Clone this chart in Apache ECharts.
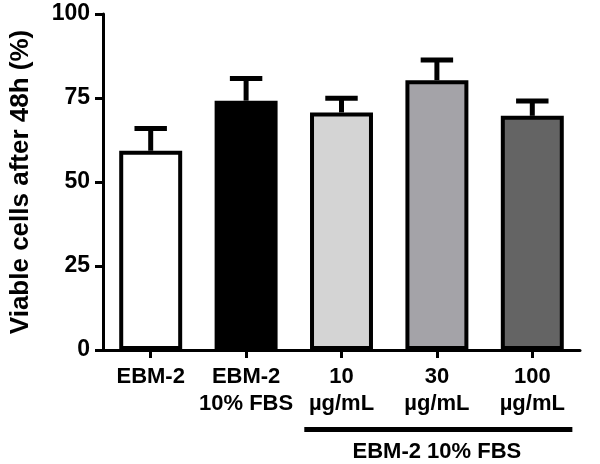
<!DOCTYPE html>
<html>
<head>
<meta charset="utf-8">
<script src="https://cdn.jsdelivr.net/npm/echarts@6/dist/echarts.min.js"></script>
<style>html,body{margin:0;padding:0;background:#fff}#c{width:600px;height:464px}</style>
</head>
<body>
<div id="c"></div>
<script>
var categories = ['EBM-2', 'EBM-2\n10% FBS', '10\n\u00b5g/mL', '30\n\u00b5g/mL', '100\n\u00b5g/mL'];
var means = [59.3, 74.2, 70.7, 80.3, 69.7];
var errors = [6.6, 6.6, 4.2, 6.0, 4.4];
var barColors = ['#ffffff', '#000000', '#d4d4d4', '#a4a3a8', '#646464'];
var yTicks = [0, 25, 50, 75, 100];
var groupLabel = 'EBM-2 10% FBS';
var groupFrom = 2, groupTo = 4;

var FONT = '"Liberation Sans", Arial, sans-serif';
var chart = echarts.init(document.getElementById('c'), null, {renderer: 'canvas'});

var option = {
  animation: false,
  backgroundColor: '#fff',
  grid: {left: 92, right: 20, top: 14, bottom: 114, containLabel: false},
  xAxis: {
    type: 'category',
    data: categories,
    axisLine: {lineStyle: {color: '#000', width: 3}},
    axisTick: {show: true, alignWithLabel: true, length: 8, lineStyle: {color: '#000', width: 3}},
    axisLabel: {color: '#000', fontFamily: FONT, fontWeight: 'bold', fontSize: 22, lineHeight: 27, margin: 13, interval: 0}
  },
  yAxis: {
    type: 'value',
    min: 0, max: 100, interval: 25,
    name: 'Viable cells after 48h (%)',
    nameLocation: 'middle',
    nameGap: 69,
    nameTextStyle: {color: '#000', fontFamily: FONT, fontWeight: 'bold', fontSize: 26},
    axisLine: {show: true, lineStyle: {color: '#000', width: 3}},
    axisTick: {show: true, length: 8, lineStyle: {color: '#000', width: 3}},
    axisLabel: {color: '#000', fontFamily: FONT, fontWeight: 'bold', fontSize: 23, margin: 13,
      formatter: function (v) { return yTicks.indexOf(v) >= 0 ? String(v) : ''; }},
    splitLine: {show: false}
  },
  series: [
    {
      type: 'bar',
      barWidth: '66%',
      data: means.map(function (m, i) {
        return {value: m, itemStyle: {color: barColors[i], borderColor: '#000', borderWidth: 4}};
      }),
      z: 2
    },
    {
      type: 'custom',
      z: 3,
      data: means.map(function (m, i) { return [i, m, m + errors[i]]; }),
      renderItem: function (params, api) {
        var base = api.coord([api.value(0), api.value(1)]);
        var top = api.coord([api.value(0), api.value(2)]);
        var band = api.size([1, 0])[0];
        var half = band * 0.17;
        var style = {stroke: '#000', lineWidth: 5};
        return {
          type: 'group',
          children: [
            {type: 'line', shape: {x1: base[0], y1: base[1], x2: top[0], y2: top[1]}, style: style},
            {type: 'line', shape: {x1: top[0] - half, y1: top[1], x2: top[0] + half, y2: top[1]}, style: style}
          ]
        };
      }
    }
  ]
};
chart.setOption(option);

var p1 = chart.convertToPixel({xAxisIndex: 0}, categories[groupFrom]);
var p2 = chart.convertToPixel({xAxisIndex: 0}, categories[groupTo]);
var pMid = chart.convertToPixel({xAxisIndex: 0}, categories[Math.round((groupFrom + groupTo) / 2)]);
var y0 = chart.convertToPixel({yAxisIndex: 0}, 0);
var bandW = chart.convertToPixel({xAxisIndex: 0}, categories[1]) - chart.convertToPixel({xAxisIndex: 0}, categories[0]);
chart.setOption({
  graphic: [
    {type: 'rect', shape: {x: p1 - bandW * 0.39, y: y0 + 77, width: (p2 - p1) + bandW * 0.81, height: 5}, style: {fill: '#000'}},
    {type: 'text', x: pMid, y: y0 + 102, style: {text: groupLabel, fill: '#000', font: 'bold 22px ' + FONT, textAlign: 'center', textVerticalAlign: 'middle'}}
  ]
});
</script>
</body>
</html>
